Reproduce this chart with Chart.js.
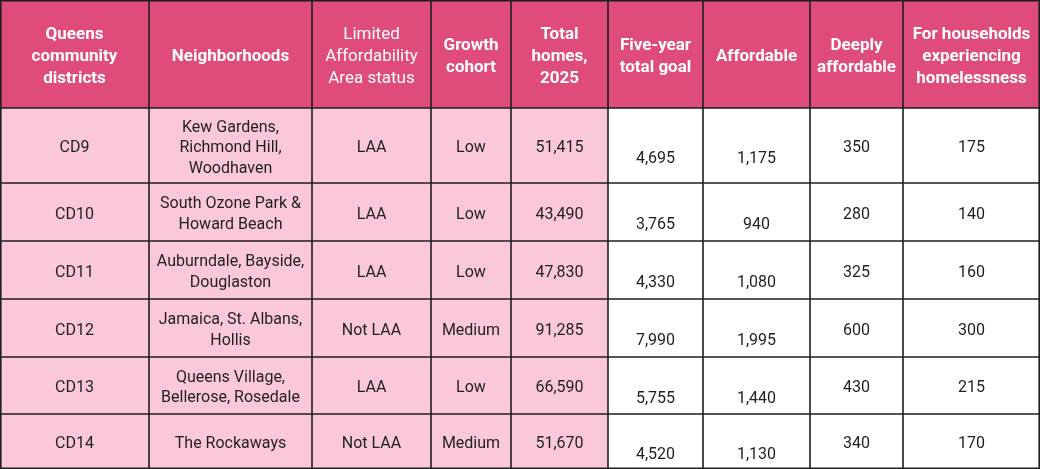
<!DOCTYPE html>
<html>
<head>
<meta charset="utf-8">
<script src="https://cdn.jsdelivr.net/npm/chart.js@4"></script>
<style>
  html, body { margin: 0; padding: 0; background: #fff; }
  #wrap { width: 1040px; height: 469px; position: relative; }
</style>
</head>
<body>
<div id="wrap"><canvas id="table"></canvas></div>
<script>
// table contents
const headers = [
  ['Queens', 'community', 'districts'],
  ['Neighborhoods'],
  ['Limited', 'Affordability', 'Area status'],
  ['Growth', 'cohort'],
  ['Total', 'homes,', '2025'],
  ['Five-year', 'total goal'],
  ['Affordable'],
  ['Deeply', 'affordable'],
  ['For households', 'experiencing', 'homelessness']
];
const districts = ['CD9', 'CD10', 'CD11', 'CD12', 'CD13', 'CD14'];
const neighborhoods = [
  ['Kew Gardens,', 'Richmond Hill,', 'Woodhaven'],
  ['South Ozone Park &', 'Howard Beach'],
  ['Auburndale, Bayside,', 'Douglaston'],
  ['Jamaica, St. Albans,', 'Hollis'],
  ['Queens Village,', 'Bellerose, Rosedale'],
  ['The Rockaways']
];
const laaStatus = ['LAA', 'LAA', 'LAA', 'Not LAA', 'LAA', 'Not LAA'];
const growthCohort = ['Low', 'Low', 'Low', 'Medium', 'Low', 'Medium'];
const totalHomes = [51415, 43490, 47830, 91285, 66590, 51670];
const fiveYearGoal = [4695, 3765, 4330, 7990, 5755, 4520];
const affordable = [1175, 940, 1080, 1995, 1440, 1130];
const deeplyAffordable = [350, 280, 325, 600, 430, 340];
const homelessness = [175, 140, 160, 300, 215, 170];

// layout (scale units)
const colWidths = [149, 163, 119, 80, 97, 95, 107, 93, 137];
const rowHeights = [108, 75, 58, 58, 58, 57, 55];
const headerBold = [true, true, false, true, true, true, true, true, true];
const bodyShift = [0, 0, 0, 0, 0, 10.5, 10.5, 0, 0];
const pinkCols = 5;

const HEAD_BG = '#e04c79';
const BODY_PINK = '#fac8da';
const GRID = '#1e1e1e';
const FONT = 'Roboto, "Open Sans", sans-serif';

const fmt = v => v.toLocaleString('en-US');
const columns = [districts, neighborhoods, laaStatus, growthCohort,
  totalHomes.map(fmt), fiveYearGoal.map(fmt), affordable.map(fmt),
  deeplyAffordable.map(fmt), homelessness.map(fmt)];

const colEdges = [0];
colWidths.forEach(w => colEdges.push(colEdges[colEdges.length - 1] + w));
const rowEdges = [0];
rowHeights.forEach(h => rowEdges.push(rowEdges[rowEdges.length - 1] + h));

const tablePlugin = {
  id: 'tableCells',
  beforeDatasetsDraw(chart) {
    const { ctx, scales: { x, y } } = chart;
    ctx.save();
    ctx.textAlign = 'center';
    ctx.textBaseline = 'middle';

    for (let r = 0; r < rowHeights.length; r++) {
      const top = y.getPixelForValue(rowEdges[r]);
      const bottom = y.getPixelForValue(rowEdges[r + 1]);
      for (let c = 0; c < colWidths.length; c++) {
        const left = x.getPixelForValue(colEdges[c]);
        const right = x.getPixelForValue(colEdges[c + 1]);
        ctx.fillStyle = r === 0 ? HEAD_BG : (c < pinkCols ? BODY_PINK : '#ffffff');
        ctx.fillRect(left, top, right - left, bottom - top);

        let lines, lh, dy;
        if (r === 0) {
          lines = headers[c];
          ctx.font = (headerBold[c] ? 'bold ' : '') + '17px ' + FONT;
          ctx.fillStyle = '#ffffff';
          lh = 22;
          dy = 2.5;
        } else {
          const v = columns[c][r - 1];
          lines = Array.isArray(v) ? v : [v];
          ctx.font = '16px ' + FONT;
          ctx.fillStyle = '#1f1f1f';
          lh = 20.5;
          dy = 2.5 + bodyShift[c];
        }
        const cx = (left + right) / 2;
        const cy = (top + bottom) / 2 + dy;
        lines.forEach((t, i) => {
          ctx.fillText(t, cx, cy + (i - (lines.length - 1) / 2) * lh);
        });
      }
    }

    // grid lines
    ctx.strokeStyle = GRID;
    ctx.lineWidth = 1.6;
    ctx.beginPath();
    colEdges.forEach(e => {
      const px = Math.min(Math.max(x.getPixelForValue(e), 0.8), chart.width - 0.8);
      ctx.moveTo(px, y.getPixelForValue(0));
      ctx.lineTo(px, y.getPixelForValue(rowEdges[rowEdges.length - 1]));
    });
    rowEdges.forEach(e => {
      const py = Math.min(Math.max(y.getPixelForValue(e), 0.8), chart.height - 0.8);
      ctx.moveTo(x.getPixelForValue(0), py);
      ctx.lineTo(x.getPixelForValue(colEdges[colEdges.length - 1]), py);
    });
    ctx.stroke();
    ctx.restore();
  }
};

new Chart(document.getElementById('table').getContext('2d'), {
  type: 'scatter',
  data: { datasets: [{ data: [], pointRadius: 0 }] },
  options: {
    responsive: true,
    maintainAspectRatio: false,
    animation: false,
    layout: { padding: 0 },
    plugins: { legend: { display: false }, tooltip: { enabled: false } },
    scales: {
      x: { type: 'linear', min: 0, max: colEdges[colEdges.length - 1], display: false },
      y: { type: 'linear', min: 0, max: rowEdges[rowEdges.length - 1], reverse: true, display: false }
    }
  },
  plugins: [tablePlugin]
});
</script>
</body>
</html>
